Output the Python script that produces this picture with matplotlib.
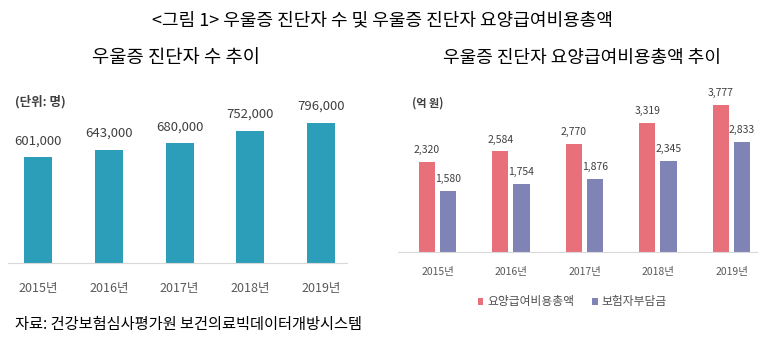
import numpy as np
import matplotlib
matplotlib.use('Agg')
import matplotlib.pyplot as plt

plt.rcParams['font.family'] = ['Noto Sans CJK KR', 'DejaVu Sans']

# 우울증 진단자 수 (명)
years = ['2015년', '2016년', '2017년', '2018년', '2019년']
patients = [601000, 643000, 680000, 752000, 796000]

# 요양급여비용총액 / 보험자부담금 (억 원)
total_cost = [2320, 2584, 2770, 3319, 3777]
insurer_cost = [1580, 1754, 1876, 2345, 2833]

W, H = 774, 345
fig = plt.figure(figsize=(W / 100, H / 100), dpi=100)


def px_axes(left, top, right, bottom):
    return fig.add_axes([left / W, 1 - bottom / H, (right - left) / W, (bottom - top) / H])


def px_text(x, y, s, **kw):
    fig.text(x / W, 1 - y / H, s, **kw)


teal = '#2C9EBA'
red = '#E8707A'
purple = '#8083B6'
grid_gray = '#D9D9D9'

# ---- 왼쪽: 진단자 수 ----
ax1 = px_axes(8, 110, 347, 263)
x = np.arange(len(years))
bars = ax1.bar(x, patients, width=0.396, color=teal)
ax1.set_xlim(-0.424, 4.367)
ax1.set_ylim(0, 869000)
for b, v in zip(bars, patients):
    ax1.annotate(f'{v:,}', (b.get_x() + b.get_width() / 2, v), xytext=(0, 7),
                 textcoords='offset points', ha='center', va='bottom',
                 fontsize=9.5, color='#404040')
ax1.set_xticks(x, years)
ax1.tick_params(axis='x', length=0, pad=14, labelsize=9, labelcolor='#595959')
ax1.set_yticks([])
for s in ['top', 'left', 'right']:
    ax1.spines[s].set_visible(False)
ax1.spines['bottom'].set_color(grid_gray)

# ---- 오른쪽: 요양급여비용총액 ----
ax2 = px_axes(398, 95, 757, 252)
off = 0.143
bw = 0.218
b1 = ax2.bar(x - off, total_cost, width=bw, color=red, label='요양급여비용총액')
b2 = ax2.bar(x + off, insurer_cost, width=bw, color=purple, label='보험자부담금')
ax2.set_xlim(-0.537, 4.347)
ax2.set_ylim(0, 4036)
for group, vals in ((b1, total_cost), (b2, insurer_cost)):
    for b, v in zip(group, vals):
        ax2.annotate(f'{v:,}', (b.get_x() + b.get_width() / 2, v), xytext=(0, 5),
                     textcoords='offset points', ha='center', va='bottom',
                     fontsize=7.5, color='#404040')
ax2.set_xticks(x, years)
ax2.tick_params(axis='x', length=0, pad=11, labelsize=7.5, labelcolor='#595959')
ax2.set_yticks([])
for s in ['top', 'left', 'right']:
    ax2.spines[s].set_visible(False)
ax2.spines['bottom'].set_color(grid_gray)

fig.legend(handles=[b1, b2], loc='center', bbox_to_anchor=(572 / W, 1 - 302 / H),
           ncol=2, frameon=False, fontsize=8.5, handlelength=0.5, handleheight=0.5,
           handletextpad=0.3, columnspacing=1.5, labelcolor='#505050')

# ---- 제목 및 주석 ----
px_text(383, 20, '<그림 1> 우울증 진단자 수 및 우울증 진단자 요양급여비용총액',
        ha='center', va='center', fontsize=13, color='black')
px_text(176, 58, '우울증 진단자 수 추이', ha='center', va='center', fontsize=13.5)
px_text(582, 58, '우울증 진단자 요양급여비용총액 추이', ha='center', va='center', fontsize=13)
px_text(15, 102, '(단위: 명)', ha='left', va='center', fontsize=9,
        fontweight='bold', color='#404040')
px_text(412, 103, '(억 원)', ha='left', va='center', fontsize=8,
        fontweight='bold', color='#404040')
px_text(15, 325, '자료: 건강보험심사평가원 보건의료빅데이터개방시스템',
        ha='left', va='center', fontsize=11, color='black')

fig.savefig('out.png', dpi=100, facecolor='white')
